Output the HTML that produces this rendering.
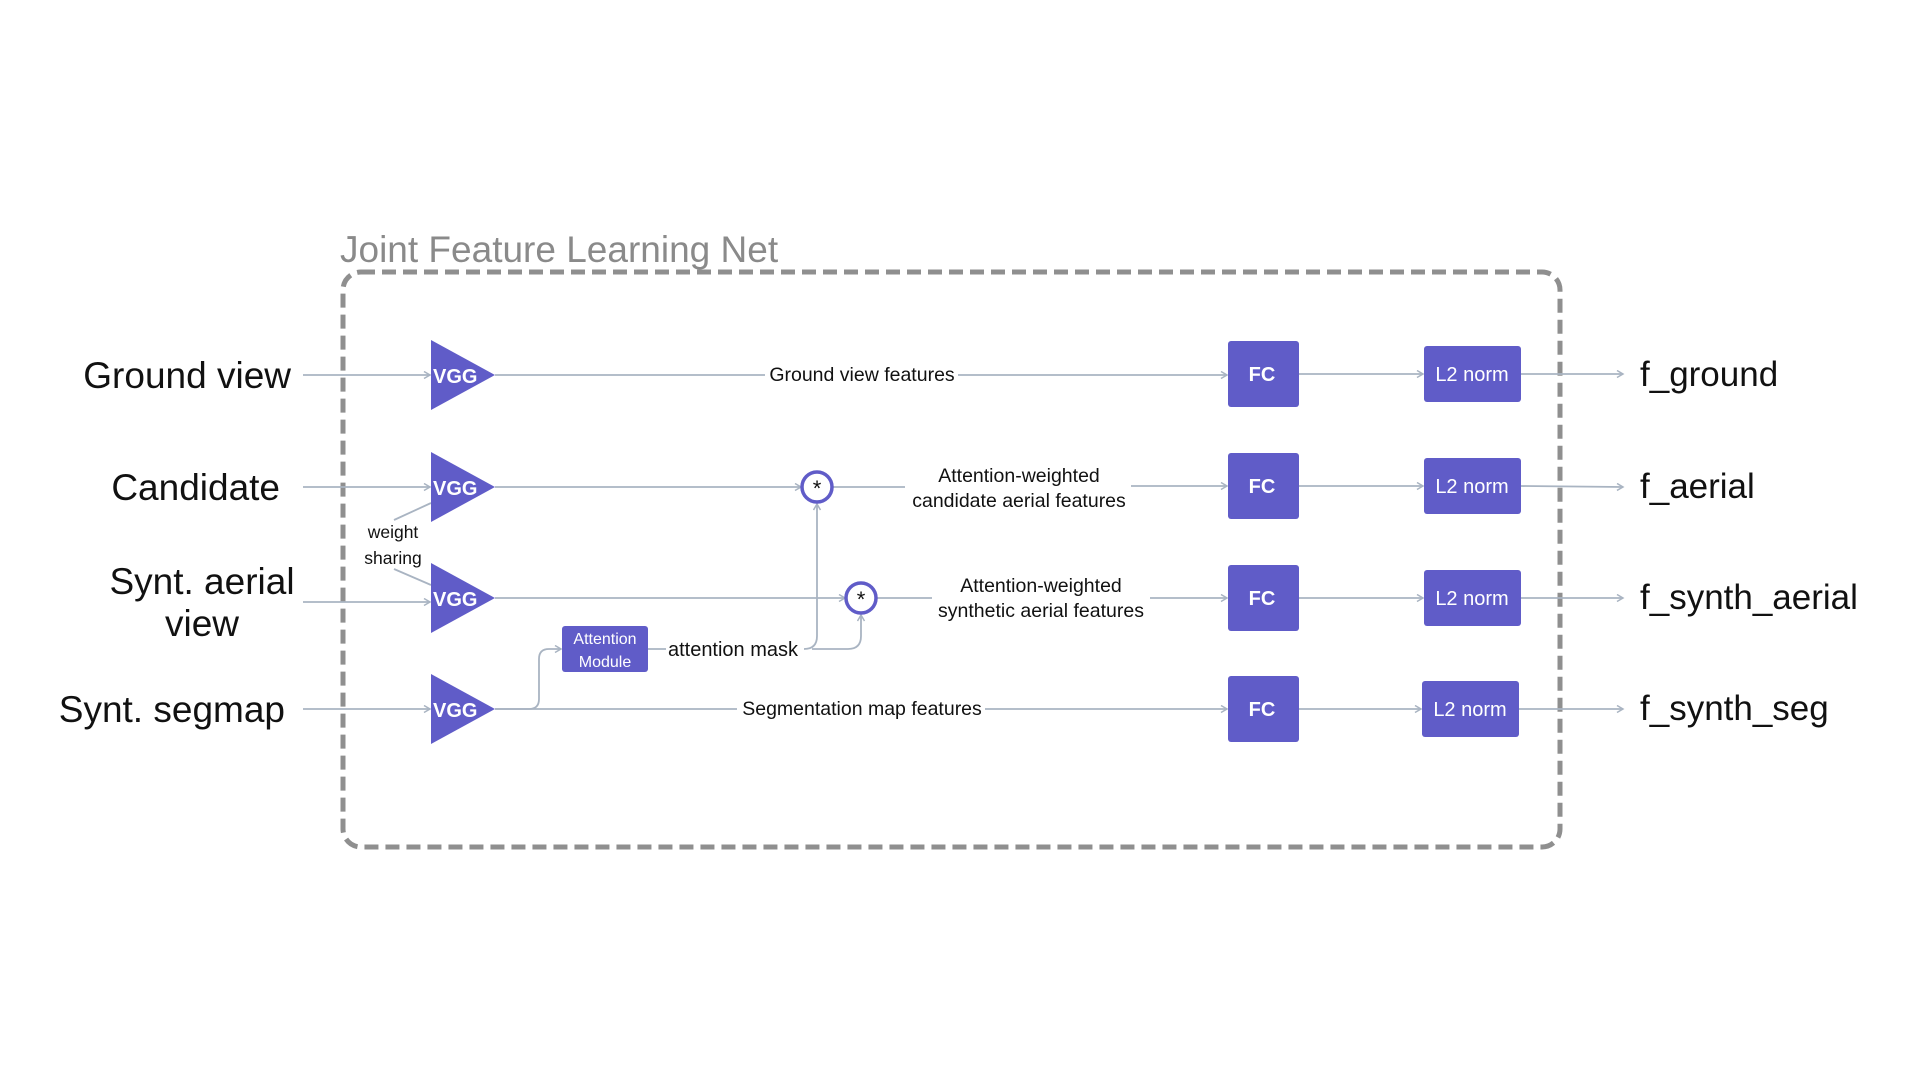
<!DOCTYPE html>
<html><head><meta charset="utf-8"><style>
html,body{margin:0;padding:0;background:#fff;}
svg{display:block;}
text{font-family:"Liberation Sans",sans-serif;}
</style></head><body>
<svg width="1920" height="1080" viewBox="0 0 1920 1080" xmlns="http://www.w3.org/2000/svg">
<defs>
<marker id="a" markerWidth="10" markerHeight="10" refX="7" refY="4" orient="auto" markerUnits="userSpaceOnUse">
<path d="M1,0.5 L7,4 L1,7.5" fill="none" stroke="#a9b4c2" stroke-width="1.5"/>
</marker>
</defs>
<text x="340" y="262" font-size="37" fill="#8a8a8a">Joint Feature Learning Net</text>
<rect x="343" y="272" width="1217" height="575" rx="18" fill="none" stroke="#8f8f8f" stroke-width="5" stroke-dasharray="14,7"/>

<g font-size="37" fill="#111">
<text x="291" y="388" text-anchor="end">Ground view</text>
<text x="280" y="500" text-anchor="end">Candidate</text>
<text x="202" y="594" text-anchor="middle">Synt. aerial</text>
<text x="202" y="636" text-anchor="middle">view</text>
<text x="285" y="722" text-anchor="end">Synt. segmap</text>
</g>
<g font-size="35" fill="#111">
<text x="1640" y="386">f_ground</text>
<text x="1640" y="498">f_aerial</text>
<text x="1640" y="609">f_synth_aerial</text>
<text x="1640" y="720">f_synth_seg</text>
</g>

<g stroke="#a9b4c2" stroke-width="1.8" fill="none">
<line x1="303" y1="375" x2="430" y2="375" marker-end="url(#a)"/>
<line x1="303" y1="487" x2="430" y2="487" marker-end="url(#a)"/>
<line x1="303" y1="602" x2="430" y2="602" marker-end="url(#a)"/>
<line x1="303" y1="709" x2="430" y2="709" marker-end="url(#a)"/>
<line x1="394" y1="520" x2="431" y2="503"/>
<line x1="394" y1="569" x2="431" y2="585"/>
<line x1="495" y1="375" x2="765" y2="375"/>
<line x1="958" y1="375" x2="1227" y2="375" marker-end="url(#a)"/>
<line x1="495" y1="487" x2="801" y2="487" marker-end="url(#a)"/>
<line x1="833" y1="487" x2="905" y2="487"/>
<line x1="1131" y1="486" x2="1227" y2="486" marker-end="url(#a)"/>
<line x1="495" y1="598" x2="845" y2="598" marker-end="url(#a)"/>
<line x1="877" y1="598" x2="932" y2="598"/>
<line x1="1150" y1="598" x2="1227" y2="598" marker-end="url(#a)"/>
<line x1="495" y1="709" x2="737" y2="709"/>
<line x1="985" y1="709" x2="1227" y2="709" marker-end="url(#a)"/>
<path d="M495,709 L529,709 Q539,709 539,699 L539,659 Q539,649 549,649 L561,649" marker-end="url(#a)"/>
<line x1="648" y1="649" x2="666" y2="649"/>
<path d="M804,649 Q817,649 817,636 L817,504" marker-end="url(#a)"/>
<path d="M812,649 L848,649 Q861,649 861,636 L861,615" marker-end="url(#a)"/>
<line x1="1299" y1="374" x2="1423" y2="374" marker-end="url(#a)"/>
<line x1="1299" y1="486" x2="1423" y2="486" marker-end="url(#a)"/>
<line x1="1299" y1="598" x2="1423" y2="598" marker-end="url(#a)"/>
<line x1="1299" y1="709" x2="1421" y2="709" marker-end="url(#a)"/>
<line x1="1521" y1="374" x2="1623" y2="374" marker-end="url(#a)"/>
<line x1="1521" y1="486" x2="1623" y2="487" marker-end="url(#a)"/>
<line x1="1521" y1="598" x2="1623" y2="598" marker-end="url(#a)"/>
<line x1="1519" y1="709" x2="1623" y2="709" marker-end="url(#a)"/>
</g>

<g fill="#605cc8">
<polygon points="431,340 495,375 431,410"/>
<polygon points="431,452 495,487 431,522"/>
<polygon points="431,563 495,598 431,633"/>
<polygon points="431,674 495,709 431,744"/>
<rect x="1228" y="341" width="71" height="66" rx="3"/>
<rect x="1228" y="453" width="71" height="66" rx="3"/>
<rect x="1228" y="565" width="71" height="66" rx="3"/>
<rect x="1228" y="676" width="71" height="66" rx="3"/>
<rect x="1424" y="346" width="97" height="56" rx="3"/>
<rect x="1424" y="458" width="97" height="56" rx="3"/>
<rect x="1424" y="570" width="97" height="56" rx="3"/>
<rect x="1422" y="681" width="97" height="56" rx="3"/>
<rect x="562" y="626" width="86" height="46" rx="3"/>
</g>
<g fill="#fff" font-weight="bold" font-size="20">
<text x="433" y="383">VGG</text><text x="433" y="495">VGG</text>
<text x="433" y="606">VGG</text><text x="433" y="717">VGG</text>
<text x="1262" y="381" text-anchor="middle">FC</text><text x="1262" y="493" text-anchor="middle">FC</text>
<text x="1262" y="605" text-anchor="middle">FC</text><text x="1262" y="716" text-anchor="middle">FC</text>
</g>
<g fill="#fff" font-size="20" text-anchor="middle">
<text x="1472" y="381">L2 norm</text><text x="1472" y="493">L2 norm</text>
<text x="1472" y="605">L2 norm</text><text x="1470" y="716">L2 norm</text>
<text x="605" y="644" font-size="16">Attention</text>
<text x="605" y="667" font-size="16">Module</text>
</g>
<g fill="#fff" stroke="#605cc8" stroke-width="3.5">
<circle cx="817" cy="487" r="15"/><circle cx="861" cy="598" r="15"/>
</g>
<g font-size="22" fill="#111" text-anchor="middle">
<text x="817" y="496">*</text><text x="861" y="607">*</text>
</g>
<g font-size="19.5" fill="#111" text-anchor="middle">
<text x="862" y="381">Ground view features</text>
<text x="1019" y="482">Attention-weighted</text>
<text x="1019" y="507">candidate aerial features</text>
<text x="1041" y="592">Attention-weighted</text>
<text x="1041" y="617">synthetic aerial features</text>
<text x="862" y="715">Segmentation map features</text>
<text x="733" y="656" font-size="20">attention mask</text>
<text x="393" y="538" font-size="17.5">weight</text>
<text x="393" y="564" font-size="17.5">sharing</text>
</g>
</svg>
</body></html>
